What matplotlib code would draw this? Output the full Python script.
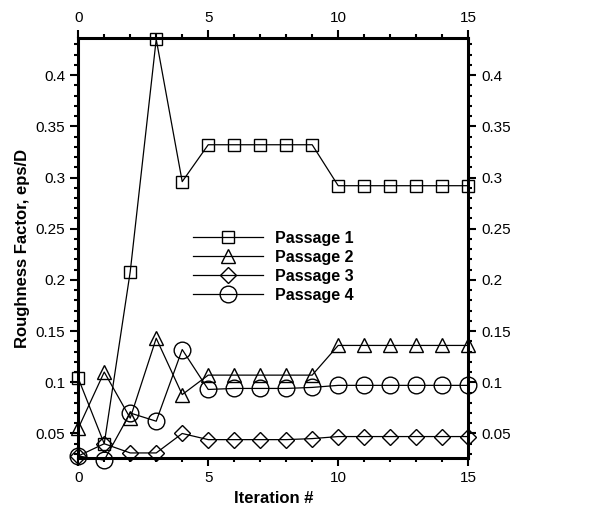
import matplotlib
matplotlib.use("Agg")
import matplotlib.pyplot as plt
from matplotlib.ticker import MultipleLocator

plt.rcParams['font.family'] = ['Liberation Sans', 'DejaVu Sans']

iterations = list(range(16))
passage1 = [0.104, 0.040, 0.208, 0.435, 0.296, 0.332, 0.332, 0.332, 0.332, 0.332,
            0.292, 0.292, 0.292, 0.292, 0.292, 0.292]
passage2 = [0.055, 0.110, 0.065, 0.143, 0.088, 0.107, 0.107, 0.107, 0.107, 0.107,
            0.136, 0.136, 0.136, 0.136, 0.136, 0.136]
passage3 = [0.028, 0.040, 0.031, 0.031, 0.050, 0.044, 0.044, 0.044, 0.044, 0.045,
            0.047, 0.047, 0.047, 0.047, 0.047, 0.047]
passage4 = [0.028, 0.024, 0.070, 0.062, 0.132, 0.093, 0.094, 0.094, 0.094, 0.095,
            0.097, 0.097, 0.097, 0.097, 0.097, 0.097]
labels = ["Passage 1", "Passage 2", "Passage 3", "Passage 4"]

fig = plt.figure(figsize=(6.16, 5.17), dpi=100)
ax = fig.add_axes([0.127, 0.114, 0.633, 0.812])

styles = [('s', 9), ('^', 10), ('D', 8), ('o', 12)]
for ys, lab, (m, ms) in zip([passage1, passage2, passage3, passage4], labels, styles):
    ax.plot(iterations, ys, color='black', lw=0.9, marker=m, ms=ms,
            mfc='none', mec='black', mew=1.0, label=lab, clip_on=False)

ax.set_xlim(0, 15)
ax.set_ylim(0.026, 0.436)
ax.xaxis.set_major_locator(MultipleLocator(5))
ax.xaxis.set_minor_locator(MultipleLocator(1))
ax.yaxis.set_major_locator(MultipleLocator(0.05))
ax.yaxis.set_minor_locator(MultipleLocator(0.01))
ax.yaxis.set_major_formatter(plt.FuncFormatter(lambda v, p: ('%g' % round(v, 2))))

ax.tick_params(which='both', top=True, right=True, labeltop=True, labelright=True,
               direction='out', labelsize=11, width=1.5)
ax.tick_params(which='major', length=6)
ax.tick_params(which='minor', length=3)
for s in ax.spines.values():
    s.set_linewidth(2.2)

ax.set_xlabel("Iteration #", fontsize=12, fontweight='bold')
ax.set_ylabel("Roughness Factor, eps/D", fontsize=12, fontweight='bold')

ax.legend(loc='upper left', bbox_to_anchor=(0.258, 0.576), frameon=False,
          handlelength=4.4, labelspacing=0.25, handletextpad=0.7,
          prop={'weight': 'bold', 'size': 11.5})

plt.savefig("out.png", dpi=100)
